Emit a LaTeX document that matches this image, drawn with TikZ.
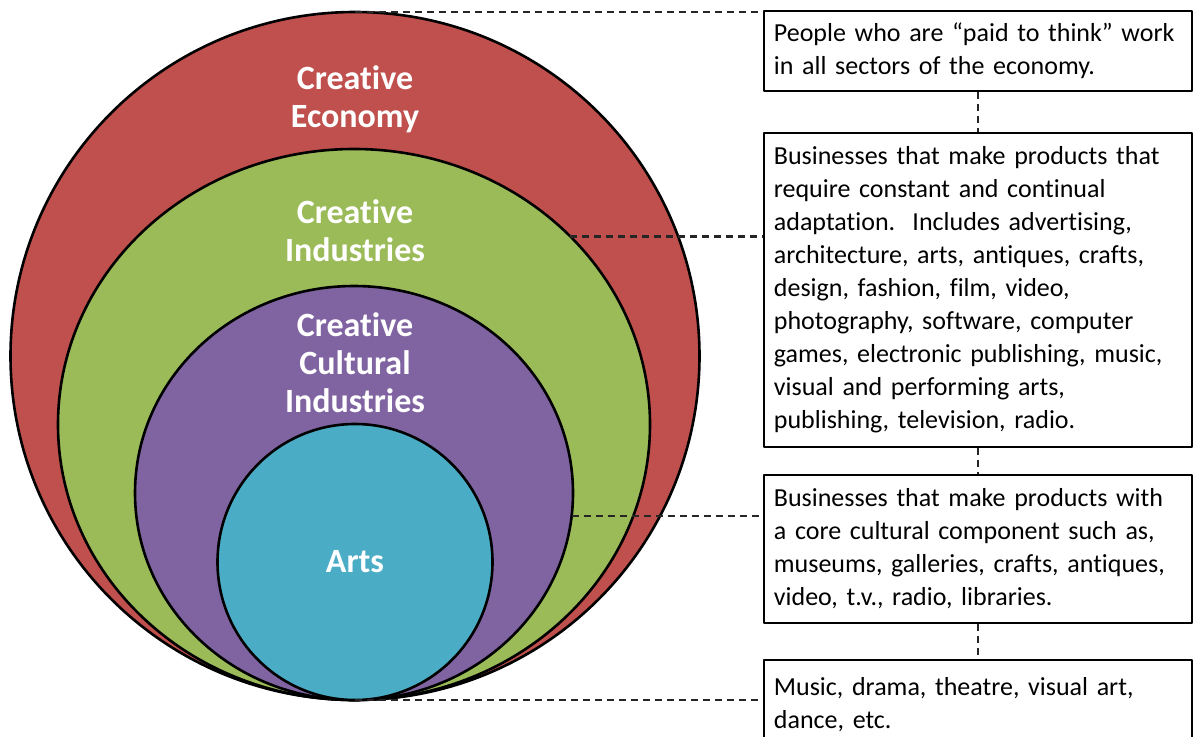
\documentclass[tikz,border=0pt]{standalone}
\usepackage{fontspec}
\setmainfont{Carlito}[Ligatures=NoCommon]
\usetikzlibrary{shapes.geometric}
\hyphenpenalty=10000
\definecolor{econred}{HTML}{C0504D}
\definecolor{indgreen}{HTML}{9BBB59}
\definecolor{cultpurple}{HTML}{8064A2}
\definecolor{artsblue}{HTML}{4BACC6}
\begin{document}
\begin{tikzpicture}[x=1pt, y=-1pt, line join=round,
  ring/.style={ellipse, draw=black, line width=2.6pt, inner sep=0pt, outer sep=0pt},
  ringlabel/.style={text=white, font=\fontsize{34}{38}\selectfont\bfseries, align=center},
  infobox/.style={draw=black, line width=1.8pt, anchor=north west, text width=408pt, inner xsep=10pt, align=left, font=\fontsize{26}{33}\selectfont},
  link/.style={dash pattern=on 7pt off 5pt, line width=2.2pt, black!85}]
\useasboundingbox (0,0) rectangle (1193,736);
\clip (0,0) rectangle (1193,736);
\node[ring, fill=econred, minimum width=689pt, minimum height=688pt] (econ) at (355,356) {};
\node[ring, fill=indgreen, minimum width=592pt, minimum height=551pt] (inds) at (354,424.5) {};
\node[ring, fill=cultpurple, minimum width=438pt, minimum height=414pt] (cult) at (354,493) {};
\node[ring, fill=artsblue, minimum width=275pt, minimum height=276pt] (arts) at (355,562) {};
\node[ringlabel] (econlabel) at (355,99) {Creative\\Economy};
\node[ringlabel] (indslabel) at (355,231) {Creative\\Industries};
\node[ringlabel] (cultlabel) at (355,363) {Creative\\Cultural\\Industries};
\node[ringlabel] (artslabel) at (355,562) {Arts};
\node[infobox, minimum height=80pt] (thinkbox) at (763,10) {People who are “paid to think” work\\in all sectors of the economy.};
\node[infobox, minimum height=314pt] (indsbox) at (763,132) {Businesses that make products that\\require constant and continual\\adaptation.\ \ Includes advertising,\\architecture, arts, antiques, crafts,\\design, fashion, film, video,\\photography, software, computer\\games, electronic publishing, music,\\visual and performing arts,\\publishing, television, radio.};
\node[infobox, minimum height=148pt] (cultbox) at (763,474) {Businesses that make products with\\a core cultural component such as,\\museums, galleries, crafts, antiques,\\video, t.v., radio, libraries.};
\node[infobox, minimum height=90pt] (artsbox) at (763,659) {Music, drama, theatre, visual art,\\dance, etc.};
\draw[link] (econ.north) -- (econ.north -| thinkbox.west);
\draw[link] (inds.41.5) -- (inds.41.5 -| indsbox.west);
\draw[link] (cult.-6) -- (cult.-6 -| cultbox.west);
\draw[link] (arts.south) -- (arts.south -| artsbox.west);
\draw[link] (thinkbox.south) -- (indsbox.north);
\draw[link] (indsbox.south) -- (cultbox.north);
\draw[link] (cultbox.south) -- (artsbox.north);
\end{tikzpicture}
\end{document}
